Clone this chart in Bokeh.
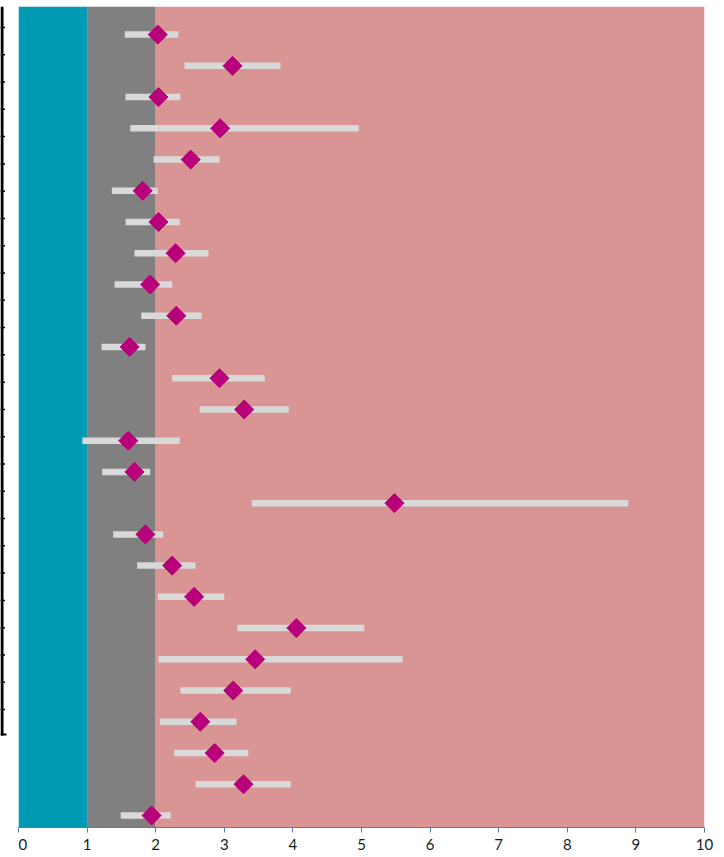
import numpy as np
from bokeh.plotting import figure
from bokeh.layouts import row
from bokeh.models import Range1d, FixedTicker, BoxAnnotation, ColumnDataSource
from bokeh.embed import file_html
from bokeh.resources import INLINE

# ---- data (rows listed top to bottom) ----
point_est = [2.03, 3.12, 2.04, 2.94, 2.51, 1.81, 2.04, 2.29, 1.92, 2.30, 1.62, 2.93, 3.29,
             1.60, 1.69, 5.48, 1.85, 2.24, 2.56, 4.05, 3.45, 3.13, 2.65, 2.86, 3.28, 1.94]
lower_ci = [1.55, 2.42, 1.56, 1.63, 1.97, 1.36, 1.56, 1.69, 1.40, 1.79, 1.21, 2.24, 2.64,
            0.93, 1.22, 3.40, 1.38, 1.73, 2.03, 3.19, 2.04, 2.36, 2.06, 2.27, 2.58, 1.49]
upper_ci = [2.33, 3.82, 2.36, 4.96, 2.93, 2.03, 2.35, 2.77, 2.24, 2.67, 1.85, 3.59, 3.94,
            2.35, 1.92, 8.89, 2.11, 2.58, 3.00, 5.04, 5.60, 3.97, 3.18, 3.35, 3.97, 2.22]
band_edges = [0, 1, 2, 10]
band_colors = ["#0099B4", "#808080", "#D99594"]
x_ticks = [0, 1, 2, 3, 4, 5, 6, 7, 8, 9, 10]

n = len(point_est)
ypos = list(range(n, 0, -1))
src = ColumnDataSource(dict(y=ypos, est=point_est, lo=lower_ci, hi=upper_ci))

p = figure(width=706, height=857, output_backend="svg", toolbar_location=None,
           x_range=Range1d(0, 10), y_range=Range1d(0.616, 26.9),
           frame_width=686, frame_height=821,
           min_border_left=0, min_border_right=20, min_border_top=6, min_border_bottom=0)
p.outline_line_color = None
p.xgrid.visible = False
p.ygrid.visible = False
p.yaxis.visible = False
p.background_fill_color = "white"

for i, c in enumerate(band_colors):
    p.add_layout(BoxAnnotation(left=band_edges[i], right=band_edges[i + 1],
                               fill_color=c, fill_alpha=1, line_color=None, level="underlay"))

p.segment(x0="lo", x1="hi", y0="y", y1="y", source=src, line_color="#D9D9D9",
          line_width=6.5, line_cap="butt")
p.scatter(x="est", y="y", source=src, marker="square", angle=np.pi / 4, size=13.5,
          fill_color="#B8007A", line_color="#B8007A")

ax = p.xaxis[0]
ax.ticker = FixedTicker(ticks=x_ticks)
ax.axis_line_color = "#4A7EBB"
ax.major_tick_line_color = "#4A7EBB"
ax.major_tick_out = 5
ax.major_tick_in = 0
ax.minor_tick_line_color = None
ax.major_label_text_font = "Lato"
ax.major_label_text_font_size = "15px"
ax.major_label_text_color = "#1a1a1a"
ax.major_label_standoff = 6

# left edge: border of a neighbouring cropped table
lf = figure(frame_width=18, frame_height=857, output_backend="svg", toolbar_location=None,
            x_range=Range1d(0, 18), y_range=Range1d(857, 0),
            min_border_left=0, min_border_right=0, min_border_top=0, min_border_bottom=0)
lf.xaxis.visible = False
lf.yaxis.visible = False
lf.grid.visible = False
lf.outline_line_color = None
lf.segment(x0=[1.5], x1=[1.5], y0=[0], y1=[729], line_color="black", line_width=3)
ty = 21 + 27.28 * np.arange(26)
lf.segment(x0=np.zeros(26), x1=np.full(26, 4.5), y0=ty, y1=ty, line_color="black", line_width=1.5)
lf.segment(x0=[0], x1=[6], y0=[728], y1=[728], line_color="black", line_width=2)

layout = row(lf, p, spacing=0)
open("out.html", "w").write(file_html(layout, INLINE))
